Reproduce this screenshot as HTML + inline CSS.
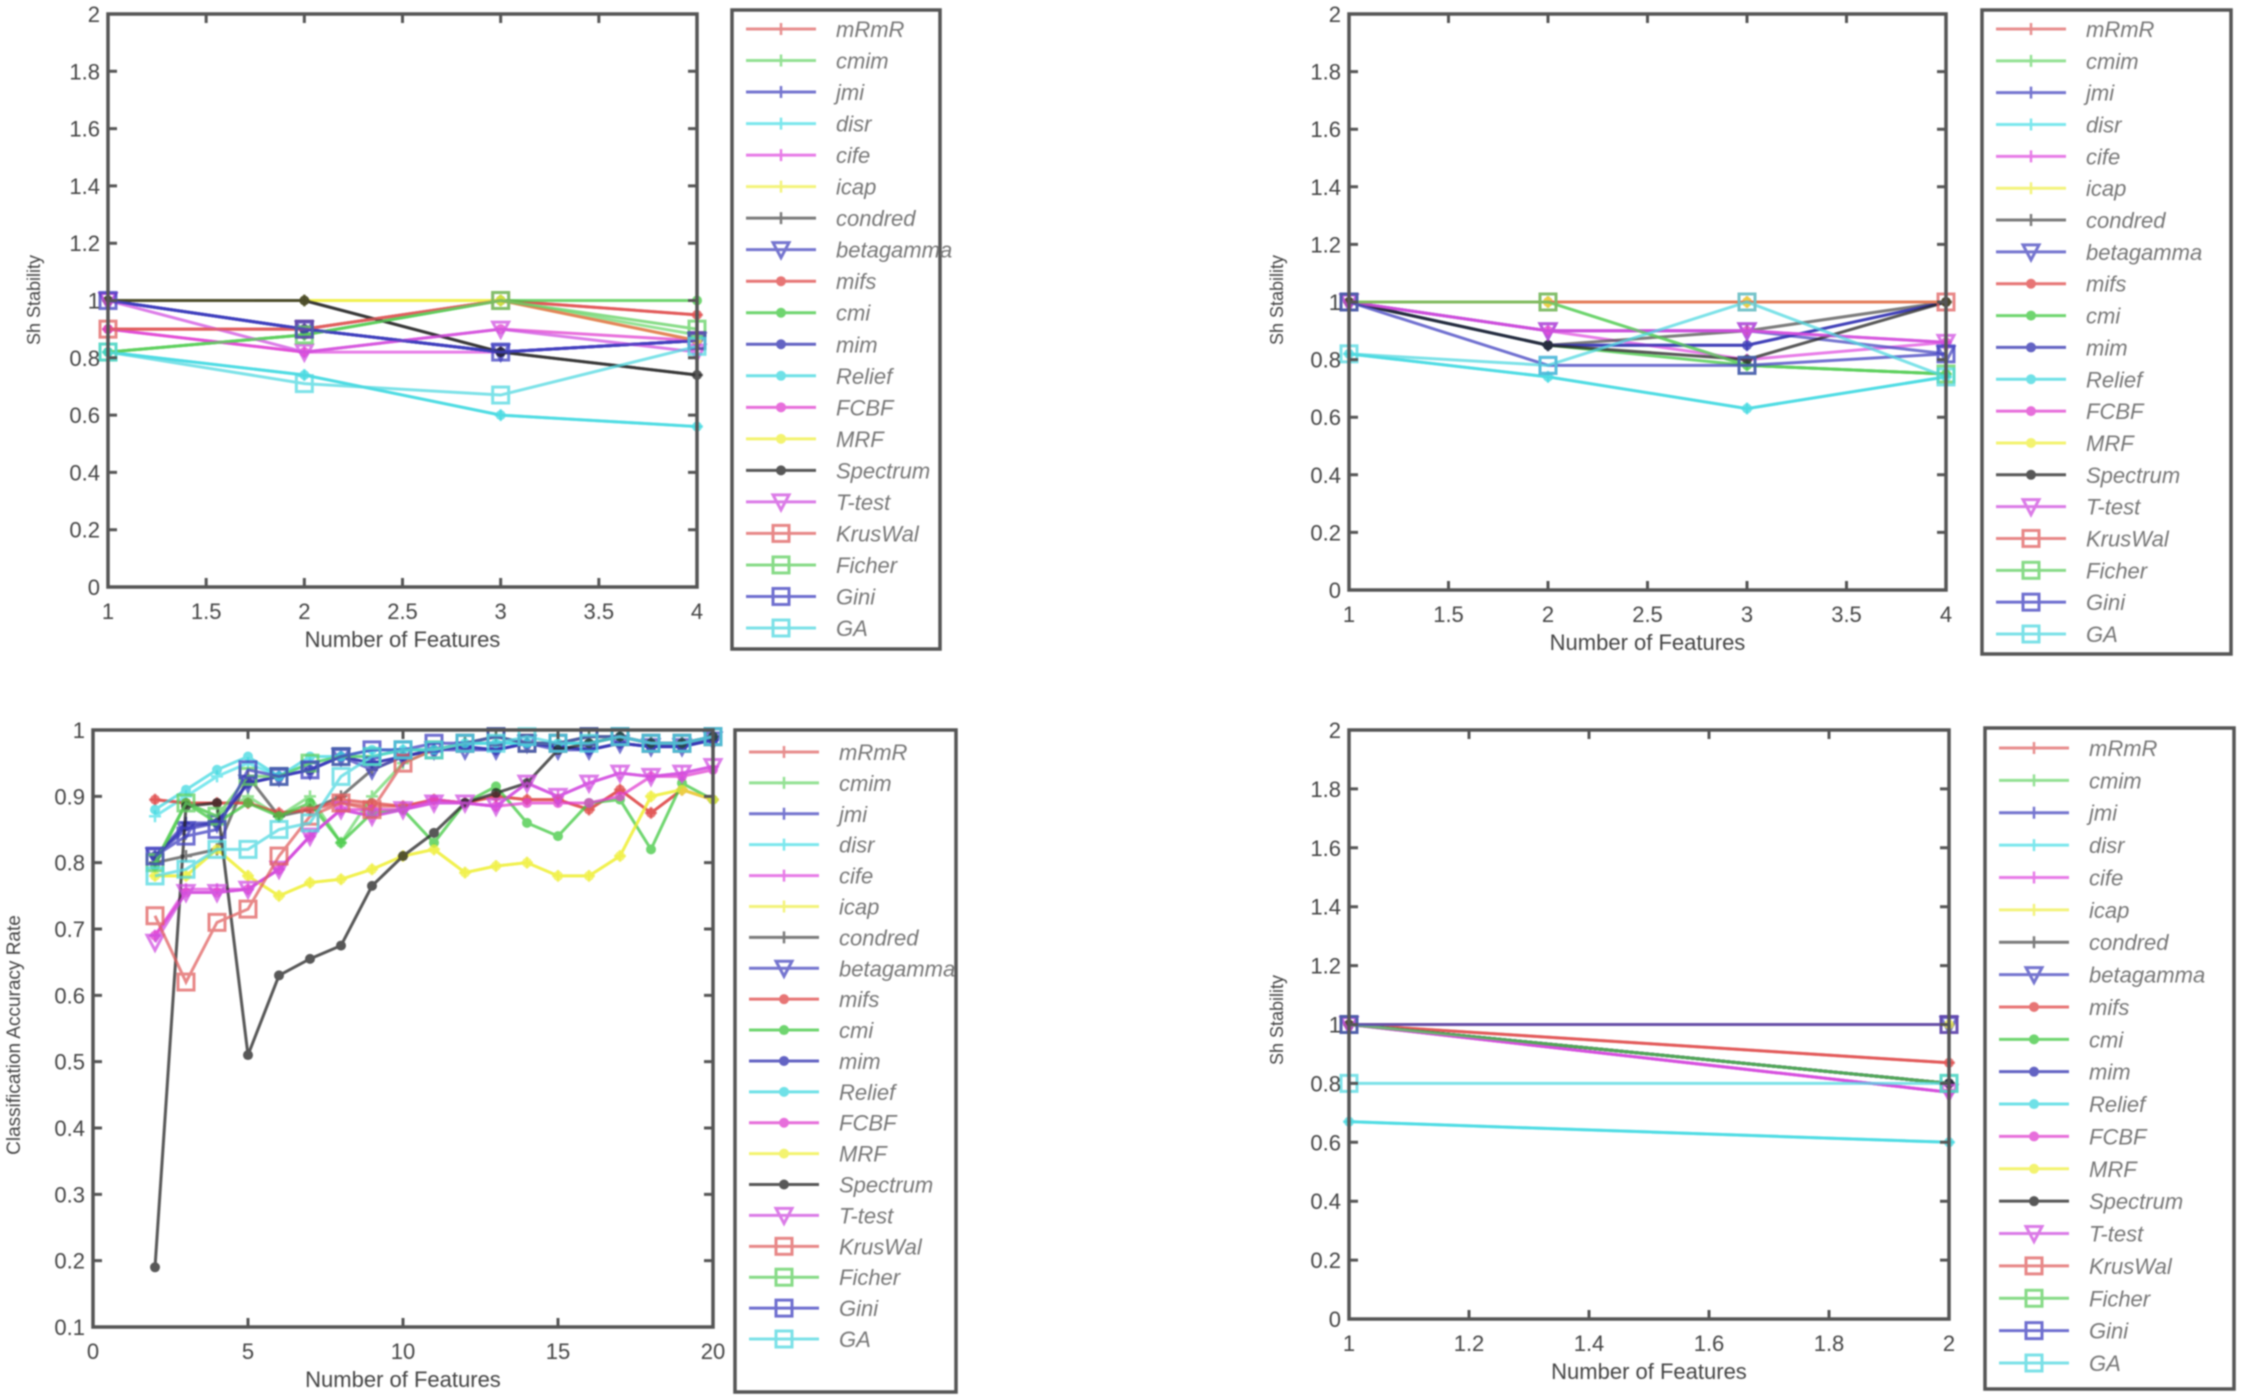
<!DOCTYPE html>
<html><head><meta charset="utf-8">
<style>
body{margin:0;background:#fff;}
svg{display:block;font-family:"Liberation Sans",sans-serif;filter:blur(0.7px);}
</style></head>
<body>
<svg id="fig" width="2250" height="1396" viewBox="0 0 2250 1396"></svg>
<script>
const names = ["mRmR","cmim","jmi","disr","cife","icap","condred","betagamma","mifs","cmi","mim","Relief","FCBF","MRF","Spectrum","T-test","KrusWal","Ficher","Gini","GA"];
const colors = ["#e06868","#70d870","#4848c0","#50e0e8","#e050e0","#f0f050","#505050","#4848c0","#e04848","#40c840","#3030b0","#40d8e0","#e040d0","#f0f040","#202020","#d050e0","#e06060","#60d060","#4040c0","#50d8e0"];
const markers = ["+","+","+","+","+","+","+","v",".",".",".",".",".",".",".","v","s","s","s","s"];

const xTL = [1,2,3,4];
const valsTL = [
 [0.9,0.9,1.0,0.95],[0.82,0.88,1.0,0.88],[1.0,0.9,0.82,0.86],[0.82,0.74,0.6,0.56],
 [0.9,0.82,0.82,0.86],[1.0,1.0,1.0,0.86],[1.0,1.0,0.82,0.74],[1.0,0.9,0.82,0.86],
 [0.9,0.9,1.0,0.95],[0.82,0.88,1.0,1.0],[1.0,0.9,0.82,0.86],[0.82,0.74,0.6,0.56],
 [0.9,0.82,0.9,0.86],[1.0,1.0,1.0,0.86],[1.0,1.0,0.82,0.74],[1.0,0.82,0.9,0.82],
 [0.9,0.9,1.0,0.86],[0.82,0.88,1.0,0.9],[1.0,0.9,0.82,0.86],[0.82,0.71,0.67,0.84]];
const xTR = [1,2,3,4];
const valsTR = [
 [1.0,1.0,1.0,1.0],[1.0,1.0,0.78,0.75],[1.0,0.85,0.85,1.0],[0.82,0.74,0.63,0.74],
 [1.0,0.9,0.8,0.86],[1.0,1.0,1.0,1.0],[1.0,0.85,0.9,1.0],[1.0,0.9,0.9,0.82],
 [1.0,1.0,1.0,1.0],[1.0,0.85,0.78,0.75],[1.0,0.85,0.85,1.0],[0.82,0.74,0.63,0.74],
 [1.0,0.9,0.9,0.86],[1.0,1.0,1.0,1.0],[1.0,0.85,0.8,1.0],[1.0,0.9,0.9,0.86],
 [1.0,1.0,1.0,1.0],[1.0,1.0,0.78,0.75],[1.0,0.78,0.78,0.82],[0.82,0.78,1.0,0.74]];
const xBL = [2,3,4,5,6,7,8,9,10,11,12,13,14,15,16,17,18,19,20];
const valsBL = [
 [0.895,0.89,0.89,0.89,0.875,0.88,0.89,0.885,0.885,0.895,0.89,0.9,0.895,0.895,0.88,0.91,0.875,0.91,0.895],
 [0.8,0.89,0.87,0.9,0.87,0.9,0.83,0.9,0.95,0.97,0.98,0.99,0.98,0.98,0.99,0.99,0.98,0.98,0.99],
 [0.81,0.86,0.86,0.92,0.93,0.94,0.96,0.95,0.96,0.97,0.975,0.97,0.98,0.975,0.97,0.98,0.975,0.975,0.985],
 [0.87,0.9,0.93,0.95,0.93,0.95,0.96,0.96,0.97,0.97,0.98,0.98,0.98,0.98,0.98,0.99,0.98,0.98,0.99],
 [0.69,0.76,0.76,0.76,0.79,0.84,0.88,0.87,0.88,0.89,0.89,0.885,0.92,0.9,0.92,0.935,0.93,0.935,0.945],
 [0.78,0.78,0.82,0.78,0.75,0.77,0.775,0.79,0.81,0.82,0.785,0.795,0.8,0.78,0.78,0.81,0.9,0.91,0.895],
 [0.8,0.81,0.82,0.93,0.87,0.88,0.9,0.94,0.96,0.97,0.98,0.99,0.98,0.98,0.99,0.99,0.98,0.98,0.99],
 [0.81,0.85,0.86,0.92,0.93,0.94,0.96,0.94,0.96,0.97,0.97,0.97,0.98,0.97,0.97,0.98,0.975,0.975,0.985],
 [0.895,0.89,0.89,0.89,0.875,0.88,0.895,0.89,0.885,0.895,0.89,0.9,0.895,0.895,0.88,0.91,0.875,0.91,0.895],
 [0.795,0.89,0.86,0.89,0.87,0.89,0.83,0.875,0.88,0.83,0.89,0.915,0.86,0.84,0.89,0.895,0.82,0.92,0.895],
 [0.81,0.855,0.86,0.92,0.93,0.94,0.96,0.95,0.96,0.97,0.975,0.97,0.98,0.975,0.97,0.98,0.975,0.975,0.985],
 [0.88,0.91,0.94,0.96,0.93,0.96,0.96,0.97,0.97,0.97,0.98,0.98,0.98,0.98,0.98,0.99,0.98,0.98,0.99],
 [0.69,0.755,0.755,0.76,0.79,0.84,0.88,0.88,0.88,0.895,0.89,0.885,0.89,0.89,0.89,0.9,0.93,0.93,0.94],
 [0.78,0.78,0.82,0.78,0.75,0.77,0.775,0.79,0.81,0.82,0.785,0.795,0.8,0.78,0.78,0.81,0.9,0.91,0.895],
 [0.19,0.885,0.89,0.51,0.63,0.655,0.675,0.765,0.81,0.845,0.89,0.905,0.92,0.97,0.98,0.99,0.98,0.98,0.99],
 [0.68,0.755,0.755,0.76,0.79,0.84,0.88,0.87,0.88,0.89,0.89,0.885,0.92,0.9,0.92,0.935,0.93,0.935,0.945],
 [0.72,0.62,0.71,0.73,0.81,0.87,0.89,0.88,0.95,0.97,0.98,0.99,0.98,0.98,0.99,0.99,0.98,0.98,0.99],
 [0.8,0.89,0.87,0.93,0.93,0.95,0.96,0.96,0.97,0.97,0.98,0.99,0.98,0.98,0.99,0.99,0.98,0.98,0.99],
 [0.81,0.84,0.85,0.94,0.93,0.94,0.96,0.97,0.97,0.98,0.98,0.99,0.98,0.98,0.99,0.99,0.98,0.98,0.99],
 [0.78,0.79,0.82,0.82,0.85,0.86,0.93,0.96,0.97,0.97,0.98,0.98,0.99,0.98,0.98,0.99,0.98,0.98,0.99]];
const xBR = [1,2];
const valsBR = [
 [1.0,0.87],[1.0,0.8],[1.0,0.8],[0.67,0.6],[1.0,0.77],[1.0,1.0],[1.0,0.8],[1.0,1.0],
 [1.0,0.87],[1.0,0.8],[1.0,0.8],[0.67,0.6],[1.0,0.77],[1.0,1.0],[1.0,0.8],[1.0,0.77],
 [1.0,1.0],[1.0,0.8],[1.0,1.0],[0.8,0.8]];
const yTicksStab = ["0","0.2","0.4","0.6","0.8","1","1.2","1.4","1.6","1.8","2"];
const xTicks14 = ["1","1.5","2","2.5","3","3.5","4"];
const yTicksAcc = ["0.1","0.2","0.3","0.4","0.5","0.6","0.7","0.8","0.9","1"];
const xTicks020 = ["0","5","10","15","20"];
const xTicks12 = ["1","1.2","1.4","1.6","1.8","2"];

const NS="http://www.w3.org/2000/svg";
const svg=document.getElementById('fig');
function mk(tag,attrs,parent){const e=document.createElementNS(NS,tag);for(const k in attrs)e.setAttribute(k,attrs[k]);(parent||svg).appendChild(e);return e;}

function drawMarker(g,m,x,y,c){
  if(m==="+"){mk('path',{d:`M${x-6},${y}H${x+6}M${x},${y-6}V${y+6}`,stroke:c,'stroke-width':2.5},g);}
  else if(m==="."){mk('circle',{cx:x,cy:y,r:5,fill:c},g);}
  else if(m==="v"){mk('path',{d:`M${x-8},${y-7}L${x+8},${y-7}L${x},${y+8}Z`,fill:'none',stroke:c,'stroke-width':3},g);}
  else if(m==="s"){mk('rect',{x:x-8,y:y-8,width:16,height:16,fill:'none',stroke:c,'stroke-width':3},g);}
}

function plot(p){
  const g=mk('g',{});
  
  
  const sx=v=>p.x0+(v-p.xmin)/(p.xmax-p.xmin)*(p.x1-p.x0);
  const sy=v=>p.y1-(v-p.ymin)/(p.ymax-p.ymin)*(p.y1-p.y0);
  for(let s=0;s<p.vals.length;s++){
    const sg=mk('g',{opacity:0.75},g);
    
    
    const pts=p.xs.map((x,i)=>sx(x)+','+sy(p.vals[s][i])).join(' ');
    mk('polyline',{points:pts,fill:'none',stroke:colors[s],'stroke-width':3},sg);
    p.xs.forEach((x,i)=>drawMarker(sg,markers[s],sx(x),sy(p.vals[s][i]),colors[s]));
  }
  const box=mk('rect',{x:p.x0,y:p.y0,width:p.x1-p.x0,height:p.y1-p.y0,fill:'none',stroke:'#555','stroke-width':3.5},g);
  
  
  p.yt.forEach(t=>{const y=sy(parseFloat(t));
    mk('path',{d:`M${p.x0},${y}h9M${p.x1},${y}h-9`,stroke:'#555','stroke-width':3},g);
    const tx=mk('text',{x:p.x0-8,y:y+8,'text-anchor':'end','font-size':22,fill:'#444'},g);tx.textContent=t;
    
    
  });
  p.xt.forEach(t=>{const x=sx(parseFloat(t));
    mk('path',{d:`M${x},${p.y1}v-9M${x},${p.y0}v9`,stroke:'#555','stroke-width':3},g);
    const tx=mk('text',{x:x,y:p.y1+32,'text-anchor':'middle','font-size':22,fill:'#444'},g);tx.textContent=t;
    
    
  });
  const xl=mk('text',{x:(p.x0+p.x1)/2,y:p.y1+60,'text-anchor':'middle','font-size':22,fill:'#444'},g);
  xl.textContent='Number of Features';
  
  
  const yl=mk('text',{x:0,y:0,transform:`translate(${p.ylx},${p.yly}) rotate(-90)`,'text-anchor':'middle','font-size':p.ylfs,fill:'#444'},g);
  yl.textContent=p.ylabel;
  
  
  const lg=mk('g',{},g);
  
  
  mk('rect',{x:p.lx0,y:p.ly0,width:p.lx1-p.lx0,height:p.ly1-p.ly0,fill:'#fff',stroke:'#555','stroke-width':3.5},lg);
  const step=(p.rowLast-p.rowFirst)/19;
  names.forEach((n,i)=>{
    const y=p.rowFirst+i*step;
    const e=mk('g',{opacity:0.75},lg);
    
    
    mk('line',{x1:p.lx0+14,x2:p.lx0+84,y1:y,y2:y,stroke:colors[i],'stroke-width':3},e);
    drawMarker(e,markers[i],p.lx0+49,y,colors[i]);
    const t=mk('text',{x:p.lx0+104,y:y+8,'font-size':22,'font-style':'italic',fill:'#777'},lg);
    t.textContent=n;
  });
}

plot({name:'chart-top-left',xs:xTL,vals:valsTL,x0:108,x1:697,y0:14,y1:587,xmin:1,xmax:4,ymin:0,ymax:2,yt:yTicksStab,xt:xTicks14,
  ylabel:'Sh Stability',ylx:40,yly:300,ylfs:18,lx0:732,lx1:940,ly0:10,ly1:649,rowFirst:29,rowLast:628});
plot({name:'chart-top-right',xs:xTR,vals:valsTR,x0:1349,x1:1946,y0:14,y1:590,xmin:1,xmax:4,ymin:0,ymax:2,yt:yTicksStab,xt:xTicks14,
  ylabel:'Sh Stability',ylx:1283,yly:300,ylfs:18,lx0:1982,lx1:2231,ly0:10,ly1:654,rowFirst:29,rowLast:634});
plot({name:'chart-bottom-left',xs:xBL,vals:valsBL,x0:93,x1:713,y0:730,y1:1327,xmin:0,xmax:20,ymin:0.1,ymax:1,yt:yTicksAcc,xt:xTicks020,
  ylabel:'Classification Accuracy Rate',ylx:20,yly:1035,ylfs:19,lx0:735,lx1:956,ly0:730,ly1:1392,rowFirst:752,rowLast:1339});
plot({name:'chart-bottom-right',xs:xBR,vals:valsBR,x0:1349,x1:1949,y0:730,y1:1319,xmin:1,xmax:2,ymin:0,ymax:2,yt:yTicksStab,xt:xTicks12,
  ylabel:'Sh Stability',ylx:1283,yly:1020,ylfs:18,lx0:1985,lx1:2234,ly0:728,ly1:1389,rowFirst:748,rowLast:1363});
</script>
</body></html>
